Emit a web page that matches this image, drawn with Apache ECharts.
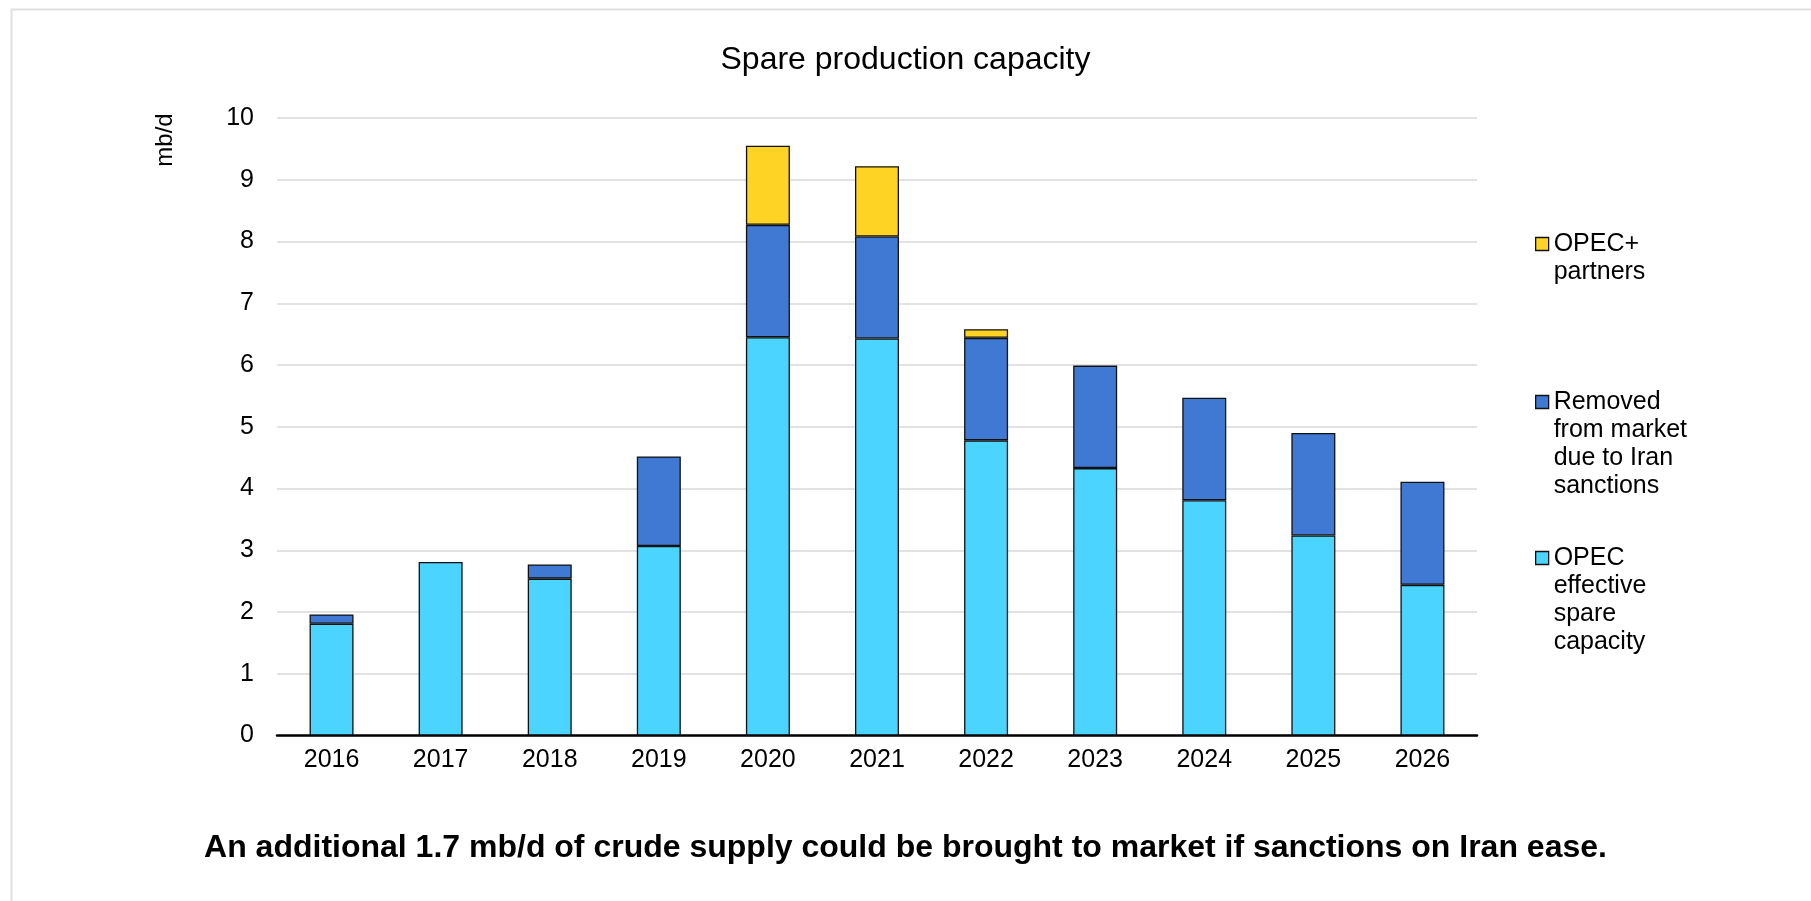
<!DOCTYPE html>
<html>
<head>
<meta charset="utf-8">
<style>
  html, body { margin: 0; padding: 0; background: #ffffff; }
  #chart { width: 1811px; height: 901px; }
</style>
<script src="https://cdn.jsdelivr.net/npm/echarts@6/dist/echarts.min.js"></script>
</head>
<body>
<div id="chart"></div>
<script>
// ---- data ----
const categories = ['2016', '2017', '2018', '2019', '2020', '2021', '2022', '2023', '2024', '2025', '2026'];
const opecEffective = [1.81, 2.81, 2.54, 3.07, 6.45, 6.43, 4.78, 4.33, 3.81, 3.24, 2.44];
const removedIran   = [0.15, 0.00, 0.23, 1.45, 1.82, 1.65, 1.66, 1.66, 1.66, 1.66, 1.67];
const opecPlus      = [0.00, 0.00, 0.00, 0.00, 1.28, 1.14, 0.14, 0.00, 0.00, 0.00, 0.00];
const seriesNames = [
  'OPEC\neffective\nspare\ncapacity',
  'Removed\nfrom market\ndue to Iran\nsanctions',
  'OPEC+\npartners'
];
const yTicks = [0, 1, 2, 3, 4, 5, 6, 7, 8, 9, 10];
const titleText = 'Spare production capacity';
const captionText = 'An additional 1.7 mb/d of crude supply could be brought to market if sanctions on Iran ease.';
const unitText = 'mb/d';

const colors = ['#4AD4FF', '#3F79D3', '#FED323'];
const FONT = '"Liberation Sans", Arial, sans-serif';

const chart = echarts.init(document.getElementById('chart'), null, { renderer: 'canvas' });

function mkSeries(name, data, color) {
  return {
    name: name,
    type: 'bar',
    stack: 'total',
    barWidth: 44,
    data: data.map(v => (v === 0 ? null : v)),
    itemStyle: { color: color, borderColor: '#111', borderWidth: 1.3 },
    emphasis: { disabled: true }
  };
}

// icon is centred on the text block; prepend blank lines so the first
// text line sits level with the icon, as in the reference
function mkLegend(name, iconCenterY) {
  const LH = 28;
  const n = name.split('\n').length;
  const total = 2 * n - 1;
  return {
    data: [name],
    orient: 'vertical',
    left: 1535,
    top: iconCenterY - total * LH / 2,
    padding: 0,
    itemWidth: 13,
    itemHeight: 13,
    icon: 'rect',
    selectedMode: false,
    formatter: nm => '\n'.repeat(n - 1) + nm,
    itemStyle: { borderColor: '#111', borderWidth: 1.3 },
    textStyle: { fontFamily: FONT, fontSize: 25, color: '#000', lineHeight: LH }
  };
}

const option = {
  backgroundColor: '#ffffff',
  animation: false,
  title: [
    {
      text: titleText,
      left: 'center',
      top: 44,
      padding: 0,
      textStyle: { fontFamily: FONT, fontSize: 32, fontWeight: 'normal', color: '#000' }
    },
    {
      text: captionText,
      left: 'center',
      top: 832,
      padding: 0,
      textStyle: { fontFamily: FONT, fontSize: 32, fontWeight: 'bold', color: '#000' }
    }
  ],
  legend: [
    mkLegend(seriesNames[2], 244),
    mkLegend(seriesNames[1], 402),
    mkLegend(seriesNames[0], 558)
  ],
  grid: { left: 277, right: 334, top: 118, bottom: 165.5, containLabel: false },
  xAxis: {
    type: 'category',
    data: categories,
    axisTick: { show: false },
    axisLine: { show: true, lineStyle: { color: '#000', width: 2.5 } },
    axisLabel: { fontFamily: FONT, fontSize: 25, color: '#000', margin: 12 }
  },
  yAxis: {
    type: 'value',
    min: 0,
    max: 10,
    interval: 1,
    axisLine: { show: false },
    axisTick: { show: false },
    splitLine: { lineStyle: { color: '#d9d9d9', width: 1.5 } },
    axisLabel: {
      fontFamily: FONT, fontSize: 25, color: '#000', margin: 23,
      padding: [0, 0, 5, 0],
      formatter: v => (yTicks.indexOf(v) >= 0 ? String(v) : '')
    }
  },
  graphic: [
    {
      type: 'rect',
      left: 9, top: 7,
      shape: { width: 1900, height: 1000 },
      style: { fill: 'none', stroke: '#e0e0e0', lineWidth: 2 },
      silent: true, z: -10
    },
    {
      type: 'text',
      x: 165, y: 140,
      rotation: Math.PI / 2,
      style: {
        text: unitText, fontFamily: FONT, fontSize: 24, fill: '#000',
        align: 'center', verticalAlign: 'middle'
      },
      silent: true
    }
  ],
  series: [
    mkSeries(seriesNames[0], opecEffective, colors[0]),
    mkSeries(seriesNames[1], removedIran, colors[1]),
    mkSeries(seriesNames[2], opecPlus, colors[2])
  ]
};

chart.setOption(option);
</script>
</body>
</html>
